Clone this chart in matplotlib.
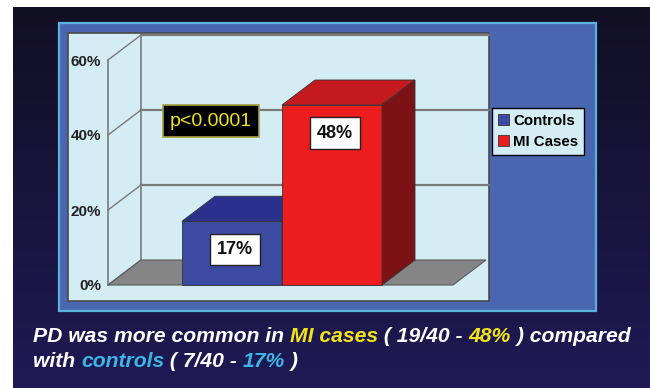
import matplotlib
matplotlib.use('Agg')
import matplotlib.pyplot as plt
import matplotlib.patches as mpatches
import numpy as np

# data
groups = ['Controls', 'MI Cases']
values = [17, 48]
value_labels = ['17%', '48%']
y_ticks = [0, 20, 40, 60]
y_tick_labels = ['0%', '20%', '40%', '60%']
p_text = 'p<0.0001'
caption_line1 = ['PD was more common in ', 'MI cases', ' ( 19/40 - ', '48%', ' ) compared']
caption_line2 = ['with ', 'controls', ' ( 7/40 - ', '17%', ' )']

# colours
front_colors = ['#3d4aa2', '#ec1c1f']
top_colors = ['#29318c', '#c41a1e']
side_colors = ['#232a78', '#7c1214']
caption_colors1 = ['white', '#f2e41c', 'white', '#f2e41c', 'white']
caption_colors2 = ['white', '#3cb4e4', 'white', '#3cb4e4', 'white']

W, H = 650, 388
fig = plt.figure(figsize=(W / 100, H / 100), dpi=100, facecolor='white')

# ---- slide background, panel and plot area (pixel space) ----
bg = fig.add_axes([0, 0, 1, 1], zorder=0)
bg.axis('off')
grad = np.linspace(0, 1, 200)[:, None, None]
top_c = np.array([0.07, 0.06, 0.14])
bot_c = np.array([0.12, 0.10, 0.33])
img = top_c + (bot_c - top_c) * grad
bg.imshow(img, extent=(13, W, H, 7), aspect='auto', origin='upper', zorder=0)
bg.add_patch(mpatches.Rectangle((59, 23), 537, 288, fc='#4a66b0', ec='#5cb0dc', lw=1.6, zorder=1))
bg.add_patch(mpatches.Rectangle((68, 33), 421, 268, fc='#d4ecf4', ec='#4a4a4a', lw=1.2, zorder=2))
bg.set_xlim(0, W)
bg.set_ylim(H, 0)

# ---- chart axes: front plane of the 3D chart ----
ax = fig.add_axes([108 / W, 1 - 285 / H, (453 - 108) / W, (285 - 60) / H], zorder=1)
xmin, xmax = -1.24, 2.21
ax.set_xlim(xmin, xmax)
ax.set_ylim(0, 60)
ax.patch.set_visible(False)
for s in ax.spines.values():
    s.set_visible(False)
ax.set_xticks([])
ax.set_yticks(y_ticks, y_tick_labels)
ax.tick_params(axis='y', length=0, pad=5, labelsize=11)
for lab in ax.get_yticklabels():
    lab.set_fontweight('bold')
    lab.set_fontfamily('Liberation Sans')
    lab.set_color('#222222')

# depth offset in data units (33 px right, 25 px up)
DX = 0.33
DY = 25 / (225 / 60)
grid_c = '#7a7a7a'
back_right = xmax + DX + 0.03

# back wall gridlines and left wall
for v in y_ticks[1:]:
    ax.plot([xmin + DX, back_right], [v + DY, v + DY], color=grid_c, lw=1.6, clip_on=False, zorder=1)
for v in y_ticks:
    ax.plot([xmin, xmin + DX], [v, v + DY], color=grid_c, lw=1.0, clip_on=False, zorder=1)
ax.plot([xmin, xmin], [0, y_ticks[-1]], color=grid_c, lw=1.2, clip_on=False, zorder=1)
ax.plot([xmin + DX, xmin + DX], [DY, y_ticks[-1] + DY], color=grid_c, lw=1.2, clip_on=False, zorder=1)

# floor
floor = mpatches.Polygon([(xmin, 0), (xmax, 0), (xmax + DX, DY), (xmin + DX, DY)],
                         closed=True, fc='#858585', ec='#5a5a5a', lw=0.8, clip_on=False, zorder=2)
ax.add_patch(floor)

# bars
xs = np.arange(len(values))
for i, (x, v) in enumerate(zip(xs, values)):
    z = 3 + i
    ax.bar(x, v, width=1.0, color=front_colors[i], edgecolor='#333333', lw=0.6,
           label=groups[i], zorder=z, clip_on=False)
    l, r = x - 0.5, x + 0.5
    top = mpatches.Polygon([(l, v), (r, v), (r + DX, v + DY), (l + DX, v + DY)], closed=True,
                           fc=top_colors[i], ec='#333333', lw=0.6, clip_on=False, zorder=z)
    side = mpatches.Polygon([(r, 0), (r + DX, DY), (r + DX, v + DY), (r, v)], closed=True,
                            fc=side_colors[i], ec='#333333', lw=0.6, clip_on=False, zorder=z)
    ax.add_patch(top)
    ax.add_patch(side)
    ax.text(x + 0.03, v - 7.5, value_labels[i], ha='center', va='center', fontsize=13,
            fontweight='bold', family='Liberation Sans', color='#111111', zorder=10,
            bbox=dict(boxstyle='square,pad=0.4', fc='white', ec='#222222', lw=1.0))

# p value box
ax.text(-0.21, 43.7, p_text, ha='center', va='center', fontsize=14, family='Liberation Sans',
        color='#f0e41c', zorder=10,
        bbox=dict(boxstyle='square,pad=0.38', fc='black', ec='#a8a040', lw=1.2))

# legend
leg = fig.legend(loc='upper left', bbox_to_anchor=(492 / W, 1 - 108 / H), frameon=True,
                 fancybox=False, edgecolor='black', facecolor='#d4ecf4', framealpha=1,
                 prop={'family': 'Liberation Sans', 'weight': 'bold', 'size': 10.8},
                 handlelength=0.75, handleheight=0.75, handletextpad=0.25, borderpad=0.4,
                 labelspacing=0.45, borderaxespad=0)
leg.get_frame().set_linewidth(1.0)
leg.set_zorder(20)

# caption with coloured words
renderer = fig.canvas.get_renderer()


def draw_caption(parts, colors, x0, y0):
    x = x0
    for s, c in zip(parts, colors):
        t = fig.text(x / W, 1 - y0 / H, s, color=c, fontsize=15.2, style='italic',
                     fontweight='bold', family='Liberation Sans', ha='left',
                     va='baseline', zorder=5)
        x += t.get_window_extent(renderer).width


draw_caption(caption_line1, caption_colors1, 33, 342)
draw_caption(caption_line2, caption_colors2, 33, 367)

fig.savefig('out.png', dpi=100)
